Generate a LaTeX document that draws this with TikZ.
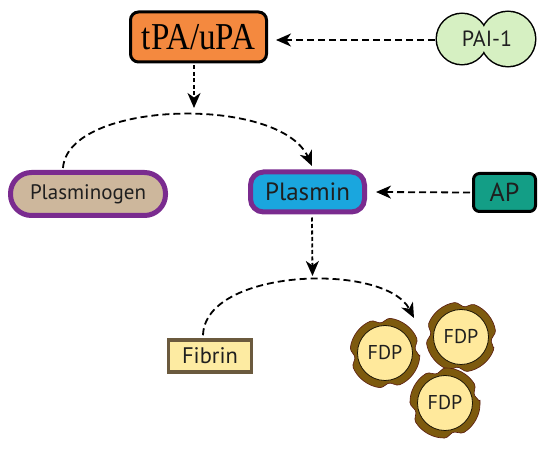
\documentclass[tikz,border=0pt]{standalone}
\usepackage{fontspec}
\setmainfont{PT Sans}
\newfontfamily\serifface{Liberation Serif}
\usetikzlibrary{arrows.meta}
\definecolor{cOrange}{HTML}{F4893F}
\definecolor{cPai}{HTML}{D6F0C2}
\definecolor{cTan}{HTML}{CDB79C}
\definecolor{cPurple}{HTML}{7A2B8F}
\definecolor{cBlue}{HTML}{1AA6DE}
\definecolor{cTeal}{HTML}{139E86}
\definecolor{cFib}{HTML}{FDEBA2}
\definecolor{cFibB}{HTML}{6B5A3E}
\definecolor{cRing}{HTML}{7D5A0E}
\definecolor{cRingE}{HTML}{5A1A10}
\definecolor{cCore}{HTML}{FFE99C}
\tikzset{
  conn/.style={line width=1.8pt, dash pattern=on 7pt off 4pt, -{Stealth[length=15pt,width=13pt,inset=4.5pt]}},
  vconn/.style={line width=1.8pt, dash pattern=on 4pt off 2.5pt, -{Stealth[length=15pt,width=13pt,inset=4.5pt]}},
  lbl/.style={font=\fontsize{#1}{#1}\selectfont, text=black!88},
  fdp/.pic={
    \begin{scope}[rotate=#1]
    \fill[cRing, draw=cRingE, line width=0.6pt, rounded corners=1.5pt]
      (14:35) \foreach \k in {0,...,3} {
        arc[start angle=90*\k+14, end angle=90*\k+76, radius=35]
        -- ({90*\k+90}:30) -- ({90*\k+104}:35) } -- cycle;
    \end{scope}
    \draw[fill=cCore, draw=black!80!cRing, line width=0.8pt] (0,0) circle (27.5);
    \node[lbl=20] at (0,0) {FDP};
  }
}
\begin{document}
\begin{tikzpicture}[x=1pt,y=-1pt]
\useasboundingbox (0,0) rectangle (550,449);
\fill[white] (0,0) rectangle (550,449);

% tPA/uPA
\node[draw=black, line width=3pt, fill=cOrange, rounded corners=8pt,
      minimum width=136pt, minimum height=50pt, inner sep=0pt] (tpa) at (198.5,37)
      {\serifface\fontsize{38}{38}\selectfont\scalebox{0.87}[1]{tPA/uPA}};

% PAI-1
\begin{scope}
  \draw[line width=3pt] (462,39) circle (25) (508,39) circle (27);
  \fill[cPai] (462,39) circle (25) (508,39) circle (27);
\end{scope}
\node[lbl=22, minimum width=100pt, minimum height=50pt] (pai) at (487,39) {PAI-1};

% Plasminogen
\node[draw=cPurple, line width=5pt, fill=cTan, rounded corners=21pt,
      minimum width=155pt, minimum height=43pt, inner sep=0pt, lbl=21] (plg) at (88,194) {Plasminogen};
% Plasmin
\node[draw=cPurple, line width=5pt, fill=cBlue, rounded corners=13pt,
      minimum width=114pt, minimum height=40pt, inner sep=0pt, lbl=25] (pls) at (307.5,192) {Plasmin};
% AP
\node[draw=black, line width=3pt, fill=cTeal, rounded corners=6pt,
      minimum width=62pt, minimum height=38pt, inner sep=0pt, lbl=26] (ap) at (504.5,192.5) {AP};
% Fibrin
\node[draw=cFibB, line width=3.5pt, fill=cFib,
      minimum width=83pt, minimum height=32pt, inner sep=0pt, lbl=22.5] (fib) at (210,356) {Fibrin};

% FDPs
\pic at (385,353) {fdp=8};
\pic at (461,337) {fdp=-6};
\pic at (445,403) {fdp=16};

% free ends
\coordinate (t1) at (194,108);
\coordinate (t2) at (312,166);
\coordinate (t3) at (312.5,276);
\coordinate (t4) at (414,318);

% connectors
\draw[conn] (pai.west) ++(-2,1) -- ([xshift=8pt]tpa.east |- 0,40);
\draw[vconn] ([xshift=-4.5pt]tpa.south) ++(0,2) -- (t1);
\draw[conn] ([xshift=-25pt]plg.north) ++(0,-2) .. controls (68,100) and (280,95) .. (t2);
\draw[conn] (ap.west) ++(-2,0) -- ([xshift=9pt]pls.east);
\draw[vconn] ([xshift=4.5pt]pls.south) ++(0,3) -- (t3);
\draw[conn] ([xshift=-7pt]fib.north) ++(0,-3) .. controls (205,268) and (385,262) .. (t4);
\end{tikzpicture}
\end{document}
